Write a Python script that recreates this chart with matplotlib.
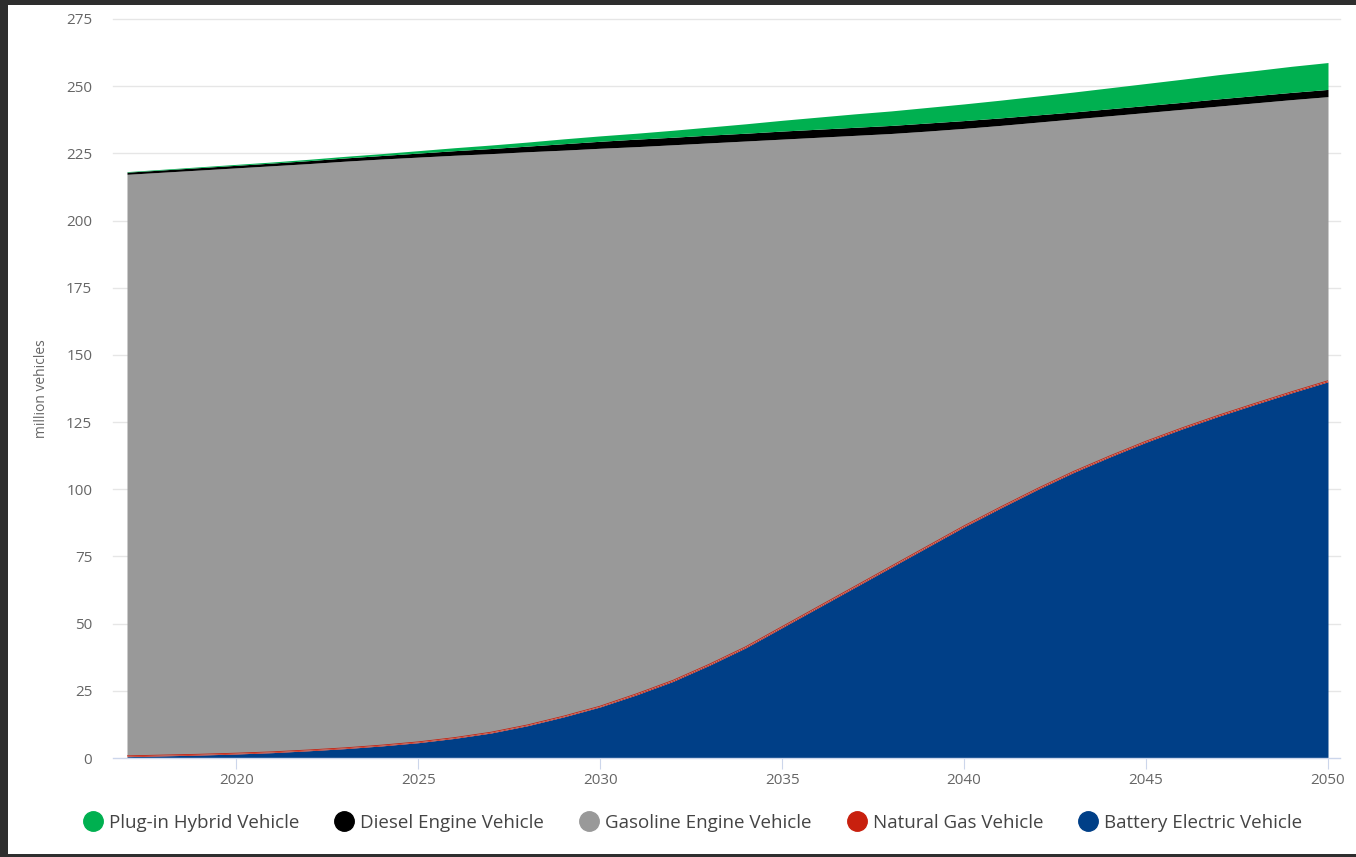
import numpy as np
import matplotlib
matplotlib.use('Agg')
from matplotlib import pyplot as plt
from matplotlib.lines import Line2D
from matplotlib.patches import Rectangle

years = list(range(2017, 2051))

# million vehicles
bev = [0.5, 0.8, 1.1, 1.5, 2.0, 2.7, 3.5, 4.5, 5.7, 7.3, 9.3, 12.0, 15.3, 19.0,
       23.5, 28.5, 34.5, 41.0, 48.5, 56.0, 63.5, 71.0, 78.5, 86.0, 93.0, 99.8,
       106.2, 112.0, 117.5, 122.5, 127.2, 131.6, 135.9, 140.0]
natgas = [0.3] * 14 + [0.4] * 20
gasoline = [216.4, 216.9, 217.4, 217.8, 218.1, 218.2, 218.3, 218.1, 217.6, 216.7,
            215.3, 213.3, 210.6, 207.6, 203.6, 199.3, 194.0, 188.2, 181.4, 174.6,
            167.8, 161.0, 154.4, 147.9, 142.0, 136.4, 131.2, 126.6, 122.3, 118.5,
            115.0, 111.8, 108.7, 105.7]
diesel = [0.8, 0.85, 0.9, 0.95, 1.0, 1.1, 1.2, 1.3, 1.5, 1.7, 1.9, 2.1, 2.4, 2.6,
          2.8, 2.8, 2.9, 2.9, 3.0, 3.0, 3.0, 3.0, 3.0, 2.9, 2.8, 2.7, 2.6, 2.6,
          2.6, 2.6, 2.7, 2.7, 2.7, 2.7]
phev = [0.2, 0.25, 0.3, 0.35, 0.4, 0.5, 0.6, 0.7, 0.9, 1.1, 1.3, 1.5, 1.8, 2.0,
        2.2, 2.6, 3.0, 3.5, 4.0, 4.5, 5.0, 5.4, 5.8, 6.2, 6.6, 7.0, 7.4, 7.8,
        8.2, 8.6, 9.0, 9.3, 9.7, 10.0]

names = ['Plug-in Hybrid Vehicle', 'Diesel Engine Vehicle', 'Gasoline Engine Vehicle',
         'Natural Gas Vehicle', 'Battery Electric Vehicle']
colors = {'Plug-in Hybrid Vehicle': '#00b050', 'Diesel Engine Vehicle': '#000000',
          'Gasoline Engine Vehicle': '#999999', 'Natural Gas Vehicle': '#c8200e',
          'Battery Electric Vehicle': '#003f87'}

plt.rcParams['font.family'] = ['Open Sans', 'DejaVu Sans']

fig = plt.figure(figsize=(13.56, 8.57), dpi=100)
fig.patch.set_facecolor('#2e2e2e')
fig.patches.append(Rectangle((8 / 1356, 0.004), 1 - 8 / 1356, 1 - 5 / 857 - 0.004,
                             transform=fig.transFigure, facecolor='white',
                             edgecolor='none', zorder=-5))

ax = fig.add_axes([127 / 1356, 1 - 758 / 857, (1328 - 127) / 1356, (758 - 19) / 857])
ax.set_facecolor('none')

# stack bottom to top: BEV, natural gas, gasoline, diesel, PHEV
stack_order = ['Battery Electric Vehicle', 'Natural Gas Vehicle', 'Gasoline Engine Vehicle',
               'Diesel Engine Vehicle', 'Plug-in Hybrid Vehicle']
series = {'Battery Electric Vehicle': bev, 'Natural Gas Vehicle': natgas,
          'Gasoline Engine Vehicle': gasoline, 'Diesel Engine Vehicle': diesel,
          'Plug-in Hybrid Vehicle': phev}
base = np.zeros(len(years))
for name in stack_order:
    top = base + np.array(series[name])
    ax.fill_between(years, base, top, color=colors[name], linewidth=0, zorder=2)
    base = top
# thin red boundary line for natural gas
ax.plot(years, np.array(bev) + np.array(natgas), color=colors['Natural Gas Vehicle'],
        linewidth=0.6, zorder=3)

ax.set_xlim(2017, 2050)
ax.set_ylim(0, 275)
ax.set_yticks(range(0, 276, 25))
ax.set_xticks(range(2020, 2051, 5))

# gridlines run a little past the plot area on both sides
gx0, gx1 = -14 / 1201, 1 + 12 / 1201
for v in range(25, 276, 25):
    ax.axhline(v, gx0, gx1, color='#e6e6e6', linewidth=1, zorder=1, clip_on=False)
ax.axhline(0, gx0, gx1, color='#ccd6eb', linewidth=1, zorder=4, clip_on=False)

for s in ['top', 'right', 'left', 'bottom']:
    ax.spines[s].set_visible(False)
ax.tick_params(axis='y', length=0, pad=25, labelsize=11, labelcolor='#666666')
ax.tick_params(axis='x', length=8, color='#ccd6eb', pad=3, labelsize=11,
               labelcolor='#666666')
ax.set_ylabel('million vehicles', fontsize=10, color='#666666', labelpad=12)

handles = [Line2D([], [], marker='o', linestyle='none', markersize=14,
                  markerfacecolor=colors[n], markeredgecolor=colors[n]) for n in names]
fig.legend(handles, names, loc='center', bbox_to_anchor=(692 / 1356, 1 - 823 / 857),
           ncol=5, frameon=False, fontsize=13.5, labelcolor='#444444',
           handletextpad=0.25, columnspacing=1.8, handlelength=1.2)

fig.savefig('out.png', dpi=100, facecolor=fig.get_facecolor())
